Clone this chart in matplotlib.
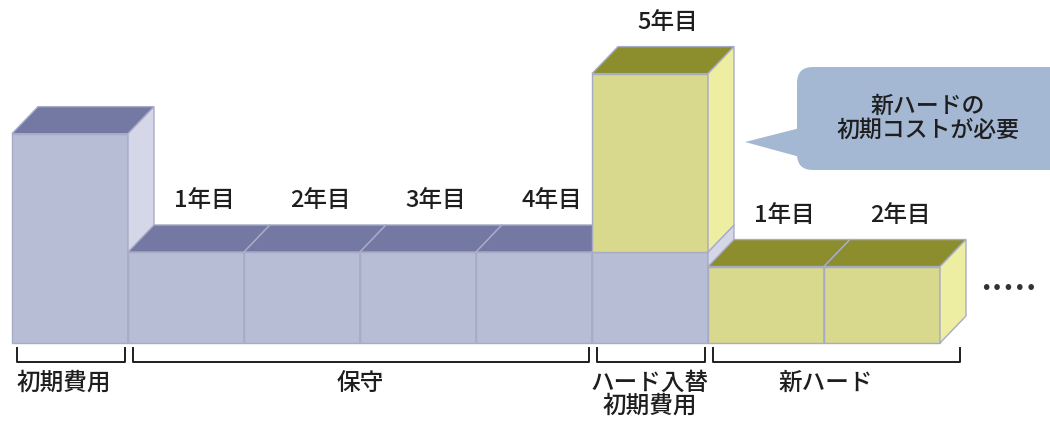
import matplotlib.pyplot as plt
from matplotlib.patches import Polygon, Rectangle, FancyBboxPatch

plt.rcParams["font.family"] = ["Noto Sans CJK JP", "DejaVu Sans"]

# =========================
# Data (cost units: one year of maintenance = 1.0)
# =========================
slot_labels = ["", "1年目", "2年目", "3年目", "4年目", "5年目", "1年目", "2年目"]
old_cost = [2.30, 1.0, 1.0, 1.0, 1.0, 1.0, 0.0, 0.0]   # old hardware (blue)
new_cost = [0.0, 0.0, 0.0, 0.0, 0.0, 1.96, 0.84, 0.84]  # new hardware (yellow)

group_labels = ["初期費用", "保守", "ハード入替\n初期費用", "新ハード"]
group_start = [0, 1, 5, 6]
group_end = [1, 5, 6, 8]

bubble_text = "新ハードの\n初期コストが必要"

# =========================
# Style
# =========================
BLUE = {"front": "#B8BDD6", "top": "#7479A4", "side": "#D5D7E8"}
YELLOW = {"front": "#D8D98C", "top": "#8C8E2E", "side": "#EEEEA2"}
EDGE = "#A7ABC6"
TXT = "#1E1E1E"
DX, DY = 0.224, 0.297   # depth offset of the boxes
PX_X, PX_Y = 116, 91     # pixels per slot / per cost unit
FS = 17


def draw_box(ax, x, bottom, top, colors):
    """Front, top and side face of one pseudo-3D box."""
    ax.add_patch(Rectangle((x, bottom), 1, top - bottom, facecolor=colors["front"],
                           edgecolor=EDGE, lw=1))
    ax.add_patch(Polygon([(x, top), (x + DX, top + DY), (x + 1 + DX, top + DY), (x + 1, top)],
                         closed=True, facecolor=colors["top"], edgecolor=EDGE, lw=1))
    ax.add_patch(Polygon([(x + 1, bottom), (x + 1 + DX, bottom + DY),
                          (x + 1 + DX, top + DY), (x + 1, top)],
                         closed=True, facecolor=colors["side"], edgecolor=EDGE, lw=1))


fig = plt.figure(figsize=(10.5, 4.21), dpi=100)
ax = fig.add_axes([0, 0, 1, 1])
ax.set_xlim(-12 / PX_X, (1050 - 12) / PX_X)
ax.set_ylim(-78 / PX_Y, 343 / PX_Y)
ax.axis("off")

for i, label in enumerate(slot_labels):
    if old_cost[i] > 0:
        draw_box(ax, i, 0, old_cost[i], BLUE)
    if new_cost[i] > 0:
        draw_box(ax, i, old_cost[i], old_cost[i] + new_cost[i], YELLOW)
    if label:
        top = old_cost[i] + new_cost[i]
        ax.text(i + 0.5 + DX * 0.7, top + DY + 24 / PX_Y, label, ha="center", va="center",
                fontsize=FS, fontweight="medium", color=TXT)

# brackets + group labels under the boxes
y_hi, y_lo = -5 / PX_Y, -19 / PX_Y
for k, label in enumerate(group_labels):
    x0 = group_start[k] + 0.04
    x1 = group_end[k] - 0.03
    xc = (group_start[k] + group_end[k]) / 2
    if k == len(group_labels) - 1:
        x1 = group_end[k] + DX - 0.05
        xc = (group_start[k] + group_end[k] + DX) / 2 - 0.1
    if k == 0:
        xc -= 0.05
    ax.plot([x0, x0, x1, x1], [y_hi, y_lo, y_lo, y_hi], color=TXT, lw=1.4)
    ax.text(xc, -29 / PX_Y, label, ha="center", va="top", fontsize=FS,
            fontweight="medium", color=TXT, linespacing=1.0)

# trailing dots
ax.text(8 + DX + 0.37, 54 / PX_Y, "•••••", ha="center", va="center", fontsize=14,
        color="#333333", family="DejaVu Sans")

# speech bubble (drawn in pixel coordinates on an overlay)
ov = fig.add_axes([0, 0, 1, 1])
ov.set_xlim(0, 1050)
ov.set_ylim(421, 0)
ov.axis("off")
ov.patch.set_alpha(0)
bubble_color = "#A4B8D3"
ov.add_patch(FancyBboxPatch((797, 67), 290, 103, boxstyle="round,pad=0,rounding_size=16",
                            facecolor=bubble_color, edgecolor="none"))
ov.add_patch(Polygon([(800, 128), (745, 142), (800, 157)], closed=True,
                     facecolor=bubble_color, edgecolor="none"))
ov.text(928, 118, bubble_text, ha="center", va="center", fontsize=16.5,
        fontweight="medium", color=TXT, linespacing=1.05)

fig.savefig("out.png", dpi=100)
